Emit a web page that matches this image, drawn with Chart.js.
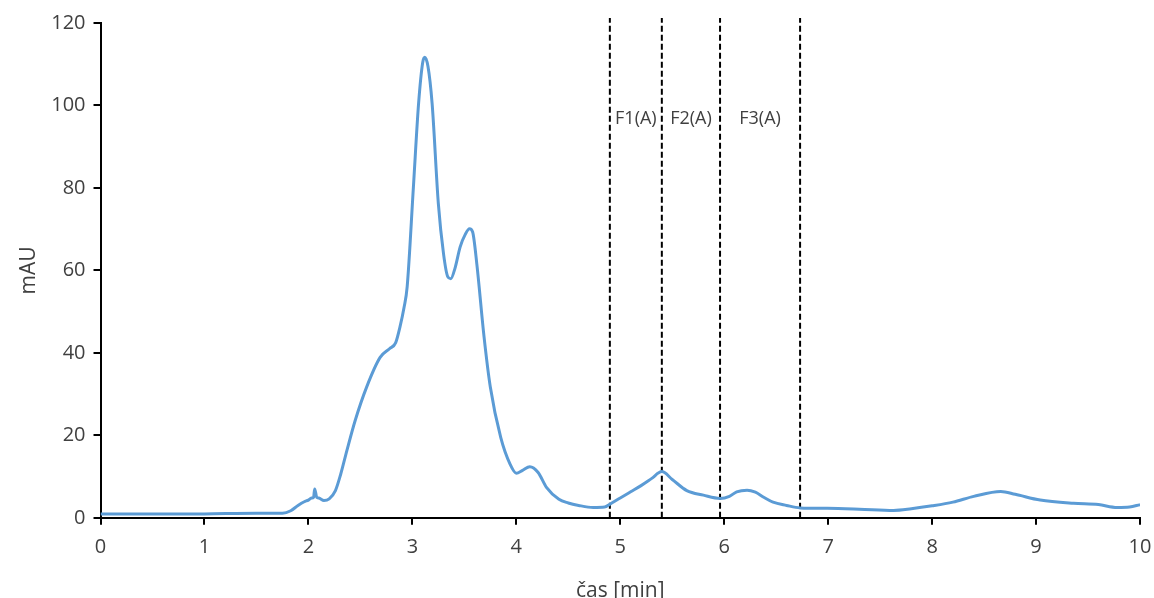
<!DOCTYPE html>
<html>
<head>
<meta charset="utf-8">
<script src="https://cdn.jsdelivr.net/npm/chart.js@4"></script>
<style>
    html, body { margin: 0; padding: 0; background: #fff; }
    canvas { display: block; }
</style>
</head>
<body>
<canvas id="chromatogram" width="1154" height="598"></canvas>
<script>
// retention time [min] and absorbance [mAU]
const times = [0, 0.5, 1.0, 1.5, 1.75, 1.83, 1.9, 1.96, 2.0, 2.03, 2.05, 2.06, 2.08, 2.1, 2.15, 2.2, 2.26, 2.31,
    2.37, 2.45, 2.56, 2.69, 2.78, 2.84, 2.88, 2.92, 2.95, 3.01, 3.06, 3.1, 3.12, 3.15, 3.19, 3.25, 3.30, 3.34,
    3.37, 3.41, 3.46, 3.51, 3.55, 3.58, 3.62, 3.69, 3.75, 3.85, 3.94, 4.0, 4.06, 4.13, 4.21, 4.29, 4.41, 4.5,
    4.6, 4.74, 4.85, 4.9, 5.0, 5.1, 5.2, 5.3, 5.4, 5.5, 5.64, 5.8, 5.96, 6.05, 6.12, 6.22, 6.3, 6.38, 6.47,
    6.6, 6.73, 6.99, 7.3, 7.63, 7.8, 8.0, 8.2, 8.4, 8.66, 8.8, 9.04, 9.36, 9.6, 9.78, 9.9, 10.0];
const absorbance = [0.9, 0.9, 0.95, 1.1, 1.1, 1.7, 3.0, 3.9, 4.3, 4.8, 5.0, 7.0, 5.0, 4.8, 4.2, 4.6, 6.6, 10.5,
    16.3, 23.6, 31.7, 38.9, 41, 42.5, 46.2, 51, 56, 80.2, 100.5, 110.5, 111.7, 109.5, 100.5, 76.2, 64, 58.5,
    58, 60.5, 65.7, 68.8, 70.1, 69.3, 61.6, 43.8, 31.7, 19.5, 13, 10.8, 11.5, 12.4, 11, 7.4, 4.5, 3.6,
    3.0, 2.5, 2.6, 3.3, 4.8, 6.3, 7.8, 9.5, 11.2, 9.3, 6.6, 5.5, 4.7, 5.2, 6.3, 6.7, 6.2, 5.0, 3.8,
    3.0, 2.4, 2.3, 2.1, 1.8, 2.2, 2.9, 3.8, 5.2, 6.4, 5.7, 4.3, 3.5, 3.2, 2.5, 2.6, 3.2];

// fraction collection boundaries and names
const cutTimes = [4.9, 5.4, 5.96, 6.73];
const fractionLabels = ['F1(A)', 'F2(A)', 'F3(A)'];
const fractionLabelLevel = 96.7;

const xTicks = [0, 1, 2, 3, 4, 5, 6, 7, 8, 9, 10];
const yTicks = [0, 20, 40, 60, 80, 100, 120];

const FONT = "'Open Sans', sans-serif";
const TEXT_COLOR = '#404040';

const curve = times.map((t, i) => ({x: t, y: absorbance[i]}));

const cutDatasets = cutTimes.map(t => ({
    data: [{x: t, y: 0}, {x: t, y: 121.2}],
    borderColor: '#000',
    borderWidth: 2,
    borderDash: [6, 3],
    pointRadius: 0,
    clip: false,
    tension: 0
}));

const fractionTextPlugin = {
    id: 'fractionText',
    afterDatasetsDraw(chart) {
        const ctx = chart.ctx;
        const xs = chart.scales.x;
        const ys = chart.scales.y;
        ctx.save();
        ctx.font = `18px ${FONT}`;
        ctx.fillStyle = TEXT_COLOR;
        ctx.textAlign = 'center';
        ctx.textBaseline = 'middle';
        fractionLabels.forEach((label, i) => {
            const mid = (cutTimes[i] + cutTimes[i + 1]) / 2;
            ctx.fillText(label, xs.getPixelForValue(mid), ys.getPixelForValue(fractionLabelLevel));
        });
        ctx.restore();
    }
};

new Chart(document.getElementById('chromatogram'), {
    type: 'line',
    data: {
        datasets: [
            {
                data: curve,
                borderColor: '#5B9BD5',
                borderWidth: 3,
                pointRadius: 0,
                cubicInterpolationMode: 'monotone',
                fill: false
            },
            ...cutDatasets
        ]
    },
    options: {
        responsive: false,
        animation: false,
        layout: {padding: {top: 23, right: 0, left: 16, bottom: -6}},
        plugins: {
            legend: {display: false},
            tooltip: {enabled: false}
        },
        scales: {
            x: {
                type: 'linear',
                min: 0,
                max: 10,
                afterBuildTicks: axis => { axis.ticks = xTicks.map(v => ({value: v})); },
                afterFit: axis => { axis.paddingRight = 14; },
                ticks: {
                    font: {family: FONT, size: 20},
                    color: TEXT_COLOR,
                    padding: 10
                },
                grid: {display: true, drawOnChartArea: false, drawTicks: true, tickLength: 7, color: '#000', lineWidth: 2},
                border: {color: '#000', width: 2},
                title: {
                    display: true,
                    text: 'čas [min]',
                    font: {family: FONT, size: 21},
                    color: TEXT_COLOR,
                    padding: {top: 10, bottom: 0}
                }
            },
            y: {
                min: 0,
                max: 120,
                afterBuildTicks: axis => { axis.ticks = yTicks.map(v => ({value: v})); },
                ticks: {
                    font: {family: FONT, size: 20},
                    color: TEXT_COLOR,
                    padding: 8
                },
                grid: {display: true, drawOnChartArea: false, drawTicks: true, tickLength: 7, color: '#000', lineWidth: 2},
                border: {color: '#000', width: 2},
                title: {
                    display: true,
                    text: 'mAU',
                    font: {family: FONT, size: 21},
                    color: TEXT_COLOR,
                    padding: {top: 0, bottom: 2}
                }
            }
        }
    },
    plugins: [fractionTextPlugin]
});
</script>
</body>
</html>
